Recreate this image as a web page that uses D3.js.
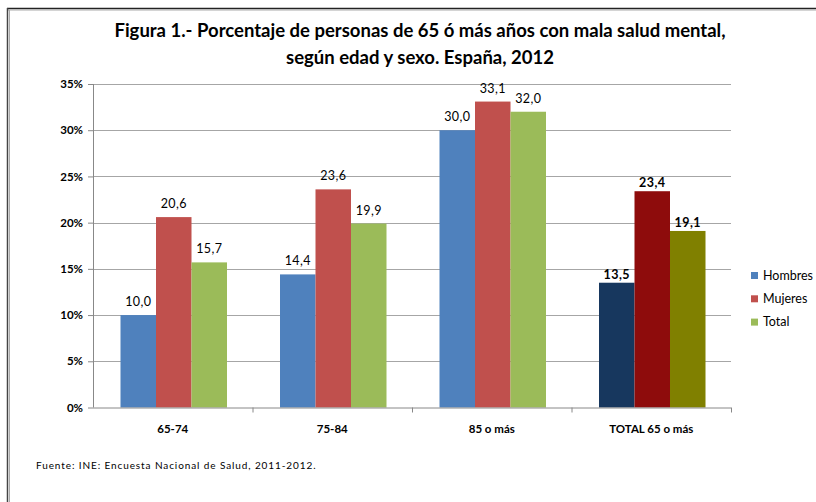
<!DOCTYPE html>
<html lang="es">
<head>
<meta charset="UTF-8">
<script src="https://d3js.org/d3.v7.min.js"></script>
<style>
  body { margin: 0; background: #fff; }
  svg text { font-family: Lato, "Open Sans", sans-serif; fill: #000; }
  .grid line { stroke: #a6a6a6; }
</style>
</head>
<body>
<div class="graph"></div>
<script>
var categories = ["65-74", "75-84", "85 o más", "TOTAL 65 o más"];
var series = ["Hombres", "Mujeres", "Total"];
var hombres = [10.0, 14.4, 30.0, 13.5];
var mujeres = [20.6, 23.6, 33.1, 23.4];
var total = [15.7, 19.9, 32.0, 19.1];
var yTicks = [0, 5, 10, 15, 20, 25, 30, 35];

var colors = ["#4f81bd", "#c0504d", "#9bbb59"];
var totalColors = ["#17375e", "#8e0c0c", "#808000"];

var width = 816, height = 502;
var margin = { top: 84, right: 85, bottom: 94.5, left: 93 };
var innerW = width - margin.left - margin.right,
    innerH = height - margin.top - margin.bottom;

var svg = d3.select(".graph").append("svg")
    .attr("width", width)
    .attr("height", height);

// frame
svg.append("line").attr("x1", 7).attr("x2", width).attr("y1", 8.5).attr("y2", 8.5)
    .attr("stroke", "#222").attr("stroke-width", 1.5);
svg.append("line").attr("x1", 7).attr("x2", width).attr("y1", 10).attr("y2", 10)
    .attr("stroke", "#aaa").attr("stroke-width", 1);
svg.append("line").attr("x1", 7.5).attr("x2", 7.5).attr("y1", 8).attr("y2", height)
    .attr("stroke", "#444").attr("stroke-width", 1.5);
svg.append("line").attr("x1", 9.5).attr("x2", 9.5).attr("y1", 10).attr("y2", height)
    .attr("stroke", "#aaa").attr("stroke-width", 1);

// title
var title = svg.append("text")
    .attr("text-anchor", "middle")
    .style("font-size", "18.5px").style("font-weight", "bold");
title.append("tspan").attr("x", 420).attr("y", 37)
    .text("Figura 1.- Porcentaje de personas de 65 ó más años con mala salud mental,");
title.append("tspan").attr("x", 420).attr("y", 64)
    .text("según edad y sexo. España, 2012");

var g = svg.append("g")
    .attr("transform", "translate(" + margin.left + "," + margin.top + ")");

var x0 = d3.scaleBand().domain(categories).range([0, innerW]);
var x1 = d3.scaleBand().domain(series).range([0, 106.5]);
var y = d3.scaleLinear().domain([0, 35]).range([innerH, 0]);

// gridlines
g.append("g").attr("class", "grid")
    .selectAll("line").data(yTicks.slice(1)).join("line")
    .attr("x1", 0).attr("x2", innerW)
    .attr("y1", d => Math.round(y(d)) + 0.5).attr("y2", d => Math.round(y(d)) + 0.5);

var rows = categories.map(function (c, i) {
    return { cat: c, idx: i, values: [hombres[i], mujeres[i], total[i]] };
});

var groups = g.selectAll(".grp").data(rows).join("g")
    .attr("class", "grp")
    .attr("transform", d => "translate(" + (x0(d.cat) + (x0.bandwidth() - 106.5) / 2 + 1) + ",0)");

groups.selectAll("rect").data(d => d.values.map((v, j) => ({ v: v, s: series[j], j: j, last: d.idx === 3 })))
    .join("rect")
    .attr("x", d => x1(d.s))
    .attr("width", x1.bandwidth())
    .attr("y", d => y(d.v))
    .attr("height", d => innerH - y(d.v))
    .attr("fill", d => d.last ? totalColors[d.j] : colors[d.j]);

groups.selectAll("text").data(d => d.values.map((v, j) => ({ v: v, s: series[j], last: d.idx === 3 })))
    .join("text")
    .attr("x", d => x1(d.s) + x1.bandwidth() / 2)
    .attr("y", d => y(d.v) - (d.last ? 4 : 9))
    .attr("text-anchor", "middle")
    .style("font-size", "12.5px")
    .style("letter-spacing", "0.4px")
    .style("font-weight", d => d.last ? "bold" : "normal")
    .text(d => d3.format(".1f")(d.v).replace(".", ","));

// axes
var yAxis = g.append("g")
    .call(d3.axisLeft(y).tickValues(yTicks).tickSize(5).tickFormat(d => d + "%"));
yAxis.select(".domain").attr("stroke", "#888").attr("d", "M0.5,0V" + innerH);
yAxis.selectAll(".tick line").attr("stroke", "#888");
yAxis.selectAll(".tick text").attr("x", -10)
    .style("font-size", "11.5px").style("font-weight", "bold")
    .style("font-family", "Lato, sans-serif").attr("fill", "#000");

var xAxis = g.append("g")
    .attr("transform", "translate(0," + innerH + ")")
    .call(d3.axisBottom(x0).tickSize(0).tickPadding(17));
xAxis.select(".domain").attr("stroke", "#888").attr("d", "M0,0.5H" + innerW);
xAxis.selectAll(".tick text")
    .style("font-size", "11.5px").style("font-weight", "bold")
    .style("font-family", "Lato, sans-serif").attr("fill", "#000");
xAxis.selectAll(".sep").data(categories).join("line")
    .attr("class", "sep")
    .attr("x1", d => x0(d) + x0.bandwidth() + 0.5).attr("x2", d => x0(d) + x0.bandwidth() + 0.5)
    .attr("y1", 0).attr("y2", 5).attr("stroke", "#888");

// legend
var legend = svg.append("g").attr("transform", "translate(751,272)");
var li = legend.selectAll("g").data(series).join("g")
    .attr("transform", (d, i) => "translate(0," + i * 23.3 + ")");
li.append("rect").attr("width", 7).attr("height", 7).attr("fill", (d, i) => colors[i]);
li.append("text").attr("x", 12).attr("y", 7.5)
    .style("font-size", "12.5px").text(d => d);

// source
svg.append("text").attr("x", 36).attr("y", 469)
    .style("font-size", "10px").style("letter-spacing", "0.9px")
    .text("Fuente: INE: Encuesta Nacional de Salud, 2011-2012.");
</script>
</body>
</html>
